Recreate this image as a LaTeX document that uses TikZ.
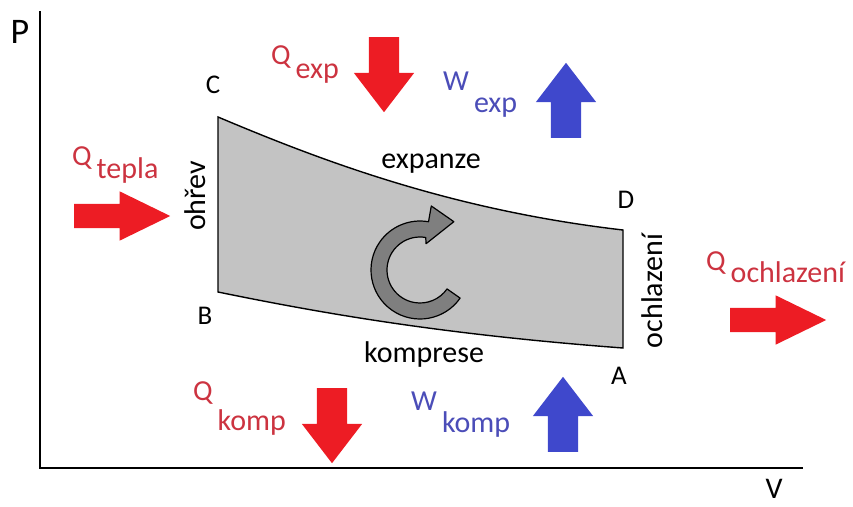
\documentclass[tikz,border=0pt]{standalone}
\usepackage{fontspec}
\setmainfont{Carlito}
\usetikzlibrary{positioning, arrows.meta, shapes.arrows, calc}
\definecolor{cHEAT}{HTML}{ED1C24}
\definecolor{cWORK}{HTML}{3F48CC}
\definecolor{cHEATtxt}{HTML}{CC3340}
\definecolor{cWORKtxt}{HTML}{4B4DB8}
\definecolor{cCYCLE}{HTML}{C3C3C3}
\definecolor{cTURN}{HTML}{7F7F7F}
\tikzset{
  blockarrow/.style={
    single arrow, draw=none, fill=#1,
    inner xsep=0pt, inner ysep=15pt, anchor=tail,
    minimum height=75pt,
    single arrow head extend=15pt,
    single arrow tip angle=75
  },
  sidearrow/.style={
    blockarrow=cHEAT,
    minimum height=96pt, inner ysep=12pt,
    single arrow head extend=12.5pt,
    single arrow tip angle=52
  },
  cyclefill/.style={
    draw=black, line width=1.4pt,
    fill=cCYCLE, line join=miter
  },
  turnarrow/.style={
    draw=black, line width=1.2pt,
    fill=cTURN, line join=round
  },
  axis/.style={line width=1.8pt, draw=black},
  pointlabel/.style={font=\fontsize{27}{30}\selectfont, inner sep=0pt},
  stagelabel/.style={font=\fontsize{30}{36}\selectfont, inner sep=0pt},
  qlabel/.style={
    font=\fontsize{29}{32}\selectfont,
    text=#1, inner sep=0pt, anchor=base west
  }
}
\newcommand{\qsub}[3]{%
  #1\hspace{5pt}\raisebox{-#3}{\fontsize{30}{34}\selectfont #2}%
}

\begin{document}
\begin{tikzpicture}[x=1pt, y=-1pt]
  \useasboundingbox (0,0) rectangle (853,506);

  % axes
  \coordinate (ytop) at (40,11);
  \coordinate (orig) at (40,468);
  \coordinate (xend) at (803,468);
  \draw[axis] (ytop) -- (orig) -- (xend);
  \node[font=\fontsize{36}{40}\selectfont, inner sep=0pt] (plab) at (20,32) {P};
  \node[font=\fontsize{30}{34}\selectfont, inner sep=0pt] (vlab) at (774,489) {V};

  % cycle
  \coordinate (C) at (218,117);
  \coordinate (D) at (623,230);
  \coordinate (A) at (623,348);
  \coordinate (B) at (218,292);
  \draw[cyclefill] (C) .. controls (320,160) and (450,210) .. (D)
    -- (A) .. controls (450,335) and (330,315) .. (B) -- cycle;

  \node[pointlabel] (clab) at (213,85) {C};
  \node[pointlabel] (dlab) at (626,200) {D};
  \node[pointlabel] (alab) at (619,376) {A};
  \node[pointlabel] (blab) at (205,316) {B};

  \node[stagelabel, anchor=base] (expanze) at (431,168) {expanze};
  \node[stagelabel, anchor=base] (komprese) at (424,362) {komprese};
  \node[stagelabel, rotate=90] (ohrev) at (195,196) {ohřev};
  \node[stagelabel, rotate=90] (ochlaz) at (652,291) {ochlazení};

  % turning arrow
  \coordinate (ring) at (420,270);
  \draw[turnarrow] ($(ring)+(35:49)$) arc[start angle=35, end angle=280, radius=49]
    -- ($(ring)+(280:65)$) -- ($(ring)+(305:59)$) -- ($(ring)+(283:27)$)
    -- ($(ring)+(280:33)$) arc[start angle=280, end angle=35, radius=33] -- cycle;

  % heat and work
  \node[blockarrow=cHEAT, rotate=-90] (qexp) at (384,37) {};
  \node[blockarrow=cWORK, rotate=90] (wexp) at (566,138) {};
  \node[blockarrow=cHEAT, rotate=-90] (qkomp) at (332,388) {};
  \node[blockarrow=cWORK, rotate=90] (wkomp) at (563,452) {};
  \node[sidearrow] (qtepla) at (74,216) {};
  \node[sidearrow] (qochl) at (730,320) {};

  \node[qlabel=cHEATtxt] (lqexp) at (271,64) {\qsub{Q}{exp}{14pt}};
  \node[qlabel=cWORKtxt] (lwexp) at (443,90) {\qsub{W}{exp}{22pt}};
  \node[qlabel=cHEATtxt] (lqtepla) at (72,165) {\qsub{Q}{tepla}{13pt}};
  \node[qlabel=cHEATtxt] (lqochl) at (706,270) {\qsub{Q}{ochlazení}{12pt}};
  \node[qlabel=cHEATtxt] (lqkomp) at (193,400) {\qsub{Q}{komp}{30pt}};
  \node[qlabel=cWORKtxt] (lwkomp) at (411,410) {\qsub{W}{komp}{22pt}};
\end{tikzpicture}
\end{document}
